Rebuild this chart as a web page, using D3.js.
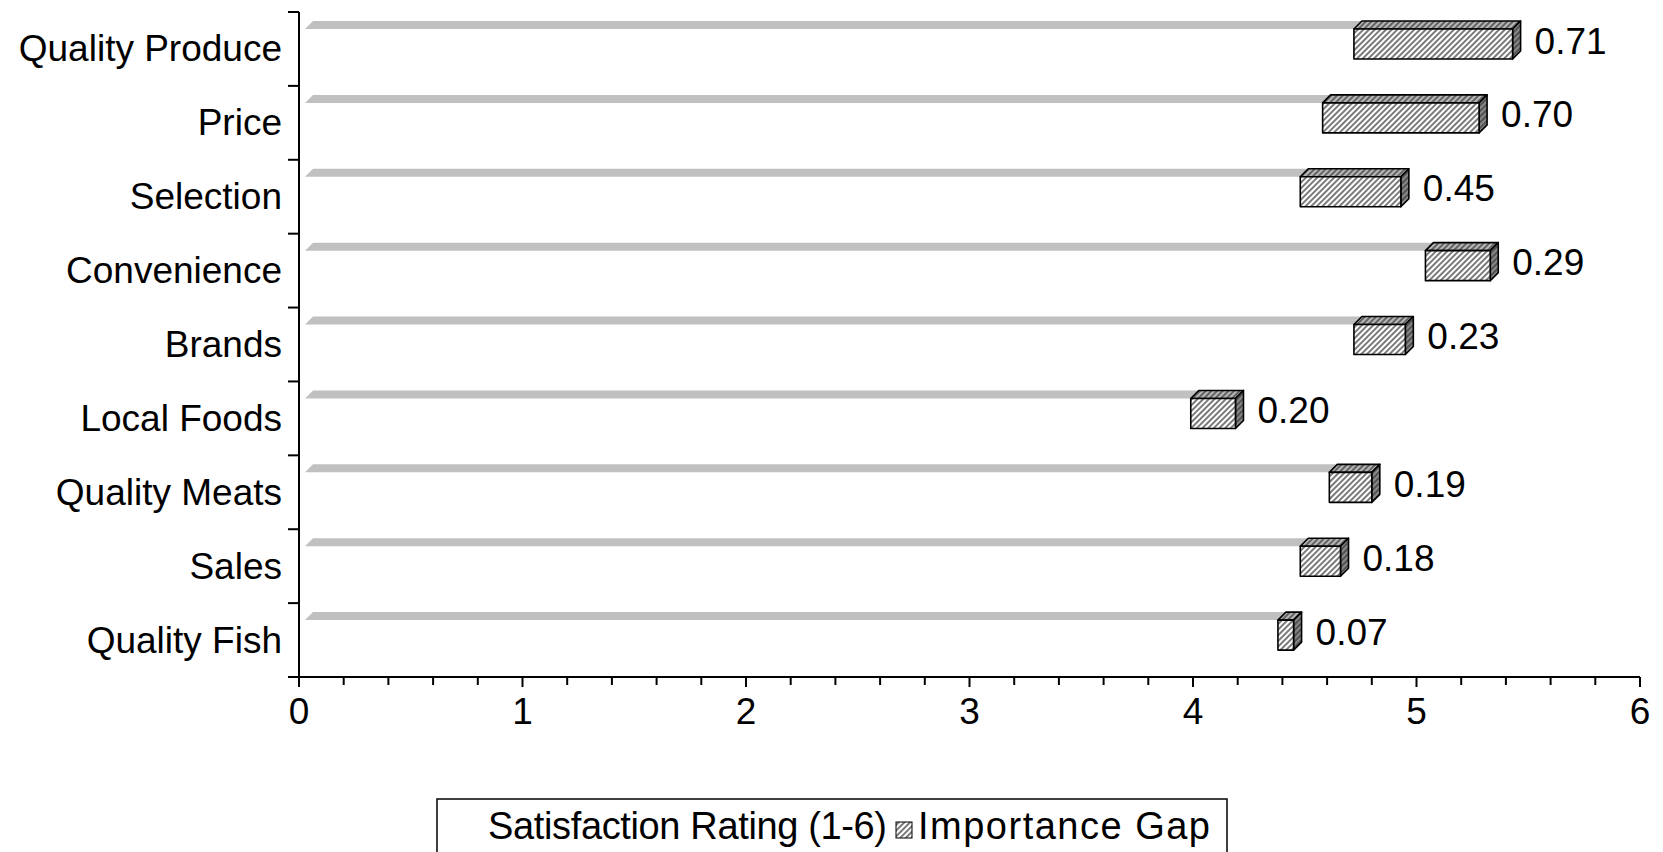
<!DOCTYPE html>
<html>
<head>
<meta charset="utf-8">
<script src="https://cdn.jsdelivr.net/npm/d3@7"></script>
<style>
  html, body { margin: 0; padding: 0; background: #fff; }
  svg { display: block; font-family: "Liberation Sans", Arial, sans-serif; }
</style>
</head>
<body>
<svg id="chart"></svg>
<script>
const categories = ['Quality Produce', 'Price', 'Selection', 'Convenience', 'Brands',
                    'Local Foods', 'Quality Meats', 'Sales', 'Quality Fish'];
const satisfaction = [4.72, 4.58, 4.48, 5.04, 4.72, 3.99, 4.61, 4.48, 4.38];
const importanceGap = [0.71, 0.70, 0.45, 0.29, 0.23, 0.20, 0.19, 0.18, 0.07];
const xTicks = [0, 1, 2, 3, 4, 5, 6];
const legendLabels = ['Satisfaction Rating (1-6)', 'Importance Gap'];

const width = 1663, height = 852;
const depth = 8;       // 3D offset of the bars
const barH = 30;

const svg = d3.select('#chart').attr('width', width).attr('height', height);

// hatch patterns for the three faces of a bar
const defs = svg.append('defs');
function hatch(id, bg, line) {
    const p = defs.append('pattern')
        .attr('id', id)
        .attr('patternUnits', 'userSpaceOnUse')
        .attr('width', 4).attr('height', 4)
        .attr('patternTransform', 'rotate(45)');
    p.append('rect').attr('width', 4).attr('height', 4).attr('fill', bg);
    p.append('line').attr('x1', 1).attr('y1', 0).attr('x2', 1).attr('y2', 4)
        .attr('stroke', line).attr('stroke-width', 1.3);
}
hatch('hFront', '#ffffff', '#333');
hatch('hTop', '#b8b8b8', '#333');
hatch('hSide', '#888888', '#333');

const x = d3.scaleLinear().domain([0, 6]).range([299, 1640]);
const y = d3.scaleBand().domain(categories).range([12, 677]).padding(0);

const rows = categories.map((c, i) => ({ name: c, sat: satisfaction[i], gap: importanceGap[i] }));

// grey top face of the (unfilled) satisfaction bar
svg.append('g').selectAll('polygon')
    .data(rows).enter().append('polygon')
    .attr('fill', '#c0c0c0')
    .attr('points', d => {
        const t = y(d.name) + 17, x0 = x(0) + 6, x1 = x(d.sat);
        return [[x0, t], [x0 + depth, t - depth], [x1 + depth, t - depth], [x1, t]].join(' ');
    });

// importance gap bars (3D)
const bars = svg.append('g').selectAll('g')
    .data(rows).enter().append('g')
    .attr('stroke', '#000').attr('stroke-width', 1.6).attr('stroke-linejoin', 'round');

bars.append('polygon')
    .attr('fill', 'url(#hTop)')
    .attr('points', d => {
        const t = y(d.name) + 17, x0 = x(d.sat), x1 = x(d.sat + d.gap);
        return [[x0, t], [x0 + depth, t - depth], [x1 + depth, t - depth], [x1, t]].join(' ');
    });
bars.append('polygon')
    .attr('fill', 'url(#hSide)')
    .attr('points', d => {
        const t = y(d.name) + 17, x1 = x(d.sat + d.gap);
        return [[x1, t], [x1 + depth, t - depth], [x1 + depth, t - depth + barH], [x1, t + barH]].join(' ');
    });
bars.append('rect')
    .attr('fill', 'url(#hFront)')
    .attr('x', d => x(d.sat))
    .attr('y', d => y(d.name) + 17)
    .attr('width', d => x(d.sat + d.gap) - x(d.sat))
    .attr('height', barH);

// value labels
svg.append('g').selectAll('text')
    .data(rows).enter().append('text')
    .attr('x', d => x(d.sat + d.gap) + depth + 14)
    .attr('y', d => y(d.name) + 17 + barH / 2 - 3)
    .attr('dominant-baseline', 'central')
    .attr('font-size', 37)
    .attr('fill', '#000')
    .text(d => d.gap.toFixed(2));

// x axis
const xAxis = svg.append('g').attr('transform', 'translate(0,677)');
xAxis.append('line').attr('x1', 288).attr('x2', x(6)).attr('stroke', '#000').attr('stroke-width', 2);
xAxis.selectAll('.minor')
    .data(d3.range(0, 6.001, 0.2)).enter().append('line')
    .attr('x1', d => x(d)).attr('x2', d => x(d))
    .attr('y1', 0).attr('y2', d => Math.abs(d - Math.round(d)) < 1e-6 ? 10 : 8)
    .attr('stroke', '#000').attr('stroke-width', 2);
xAxis.selectAll('text')
    .data(xTicks).enter().append('text')
    .attr('x', d => x(d)).attr('y', 34)
    .attr('text-anchor', 'middle').attr('dominant-baseline', 'central')
    .attr('font-size', 37).attr('fill', '#000')
    .text(d => d);

// y axis
const yAxis = svg.append('g');
yAxis.append('line').attr('x1', x(0)).attr('x2', x(0)).attr('y1', 12).attr('y2', 677)
    .attr('stroke', '#000').attr('stroke-width', 2);
yAxis.selectAll('.tick')
    .data(categories.map(c => y(c)).concat([677])).enter().append('line')
    .attr('x1', 288).attr('x2', x(0)).attr('y1', d => d).attr('y2', d => d)
    .attr('stroke', '#000').attr('stroke-width', 2);
yAxis.selectAll('text')
    .data(categories).enter().append('text')
    .attr('x', 282).attr('y', d => y(d) + y.bandwidth() / 2)
    .attr('text-anchor', 'end').attr('dominant-baseline', 'central')
    .attr('font-size', 37).attr('fill', '#000')
    .text(d => d);

// legend
const legend = svg.append('g');
legend.append('rect').attr('x', 437).attr('y', 799).attr('width', 790).attr('height', 80)
    .attr('fill', '#fff').attr('stroke', '#000').attr('stroke-width', 1.5);
legend.append('text').attr('x', 488).attr('y', 839).attr('font-size', 38)
    .attr('textLength', 399).attr('lengthAdjust', 'spacing').text(legendLabels[0]);
legend.append('rect').attr('x', 896).attr('y', 822).attr('width', 16).attr('height', 16)
    .attr('fill', 'url(#hFront)').attr('stroke', '#000').attr('stroke-width', 1);
legend.append('text').attr('x', 918).attr('y', 839).attr('font-size', 38)
    .attr('textLength', 292).attr('lengthAdjust', 'spacing').text(legendLabels[1]);
</script>
</body>
</html>
